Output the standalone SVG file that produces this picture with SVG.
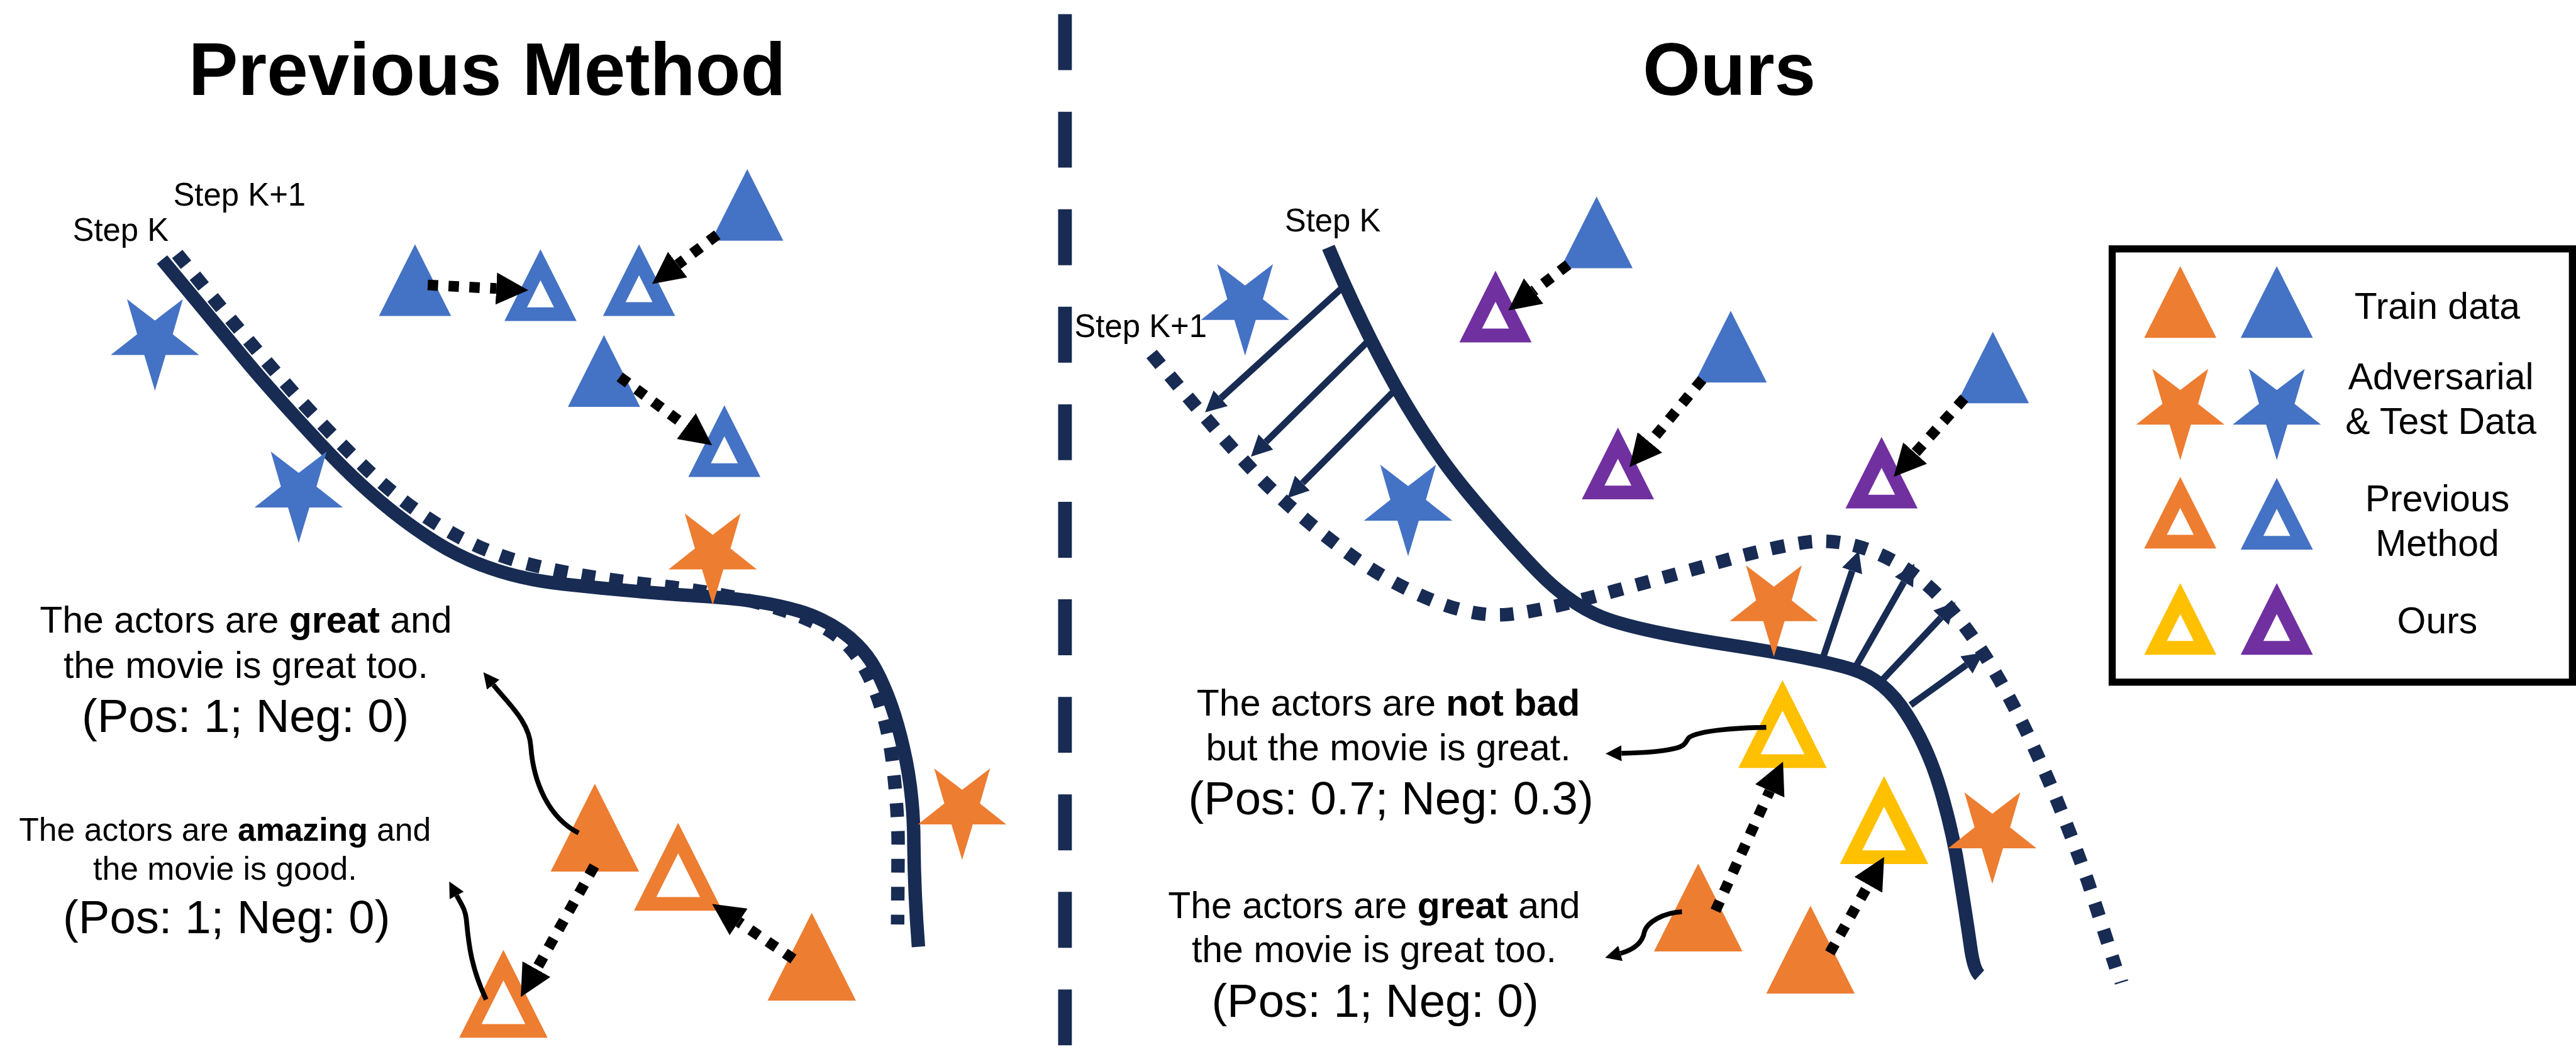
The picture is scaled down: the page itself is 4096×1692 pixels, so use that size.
<svg xmlns="http://www.w3.org/2000/svg" width="4096" height="1692" viewBox="0 0 4096 1692">
<style>
text{font-family:"Liberation Sans",Arial,sans-serif;fill:#000;text-anchor:middle}
.b{font-weight:700}
.step{font-size:63px;text-anchor:start}
.title{font-size:146px;font-weight:700}
.s73{font-size:73px}
.s64{font-size:64px}
.s90{font-size:92px}
.leg{font-size:73px}
.or{fill:#ED7D31}
.bl{fill:#4472C4}
.ye{fill:#FFC000}
.pu{fill:#7030A0}
.navy{fill:none;stroke:#172B53;stroke-width:26.5}
.dash{stroke-dasharray:27 28}
.dot{fill:none;stroke:#000;stroke-width:21;stroke-dasharray:20.5 20.5;marker-end:url(#hb)}
.fan{fill:none;stroke:#172B53;stroke-width:13;marker-end:url(#hn)}
.cur{fill:none;stroke:#000;stroke-width:9.5;marker-end:url(#hc)}
</style>
<defs>
<marker id="hb" viewBox="0 0 10 10" refX="0" refY="5" markerWidth="3" markerHeight="3" orient="auto"><path d="M0 0L10 5L0 10Z" fill="#000"/></marker>
<marker id="hn" viewBox="0 0 10 10" refX="0" refY="5" markerWidth="3.2" markerHeight="3.2" orient="auto"><path d="M0 0L10 5L0 10Z" fill="#172B53"/></marker>
<marker id="hc" viewBox="0 0 10 10" refX="0" refY="5" markerWidth="3.3" markerHeight="3.3" orient="auto"><path d="M0 0L10 5L0 10Z" fill="#000"/></marker>
<path id="t" d="M0 0L71 141H-71Z"/>
<path id="T" d="M0 0L87 173H-87Z"/>
<path id="h" fill-rule="evenodd" d="M0 0L71 141H-71ZM0 61L26.5 114H-26.5Z"/>
<path id="H" fill-rule="evenodd" d="M0 0L87 173H-87ZM0 60L43 146H-43Z"/>
<path id="s" d="M-55 0L0 42L55 0L35 69L87 110H21L0 180L-21 110H-87L-35 69Z"/>
</defs>
<rect width="4096" height="1692" fill="#fff"/>
<g transform="scale(0.80773)">
<g id="divider"><path d="M2096.5 28V2068" fill="none" stroke="#172B53" stroke-width="27" stroke-dasharray="110 82"/></g>
<g id="title-left"><text class="title" x="959" y="187">Previous Method</text></g>
<g id="title-right"><text class="title" x="3404" y="187">Ours</text></g>

<g id="connectors">
<path class="navy dash" d="M349 500Q470 650 555 747Q640 845 715 917Q790 990 875 1041Q960 1092 1055 1114Q1150 1137 1290 1152Q1430 1168 1515 1193Q1600 1218 1645 1250Q1690 1282 1719 1351Q1748 1420 1758 1510Q1768 1600 1768 1660L1767 1820"/>
<path class="navy" d="M319 511Q415 626 475 699Q535 772 642 886Q750 1000 857 1067Q965 1135 1109 1150Q1253 1166 1399 1175Q1545 1185 1617 1220Q1690 1255 1724 1318Q1758 1382 1778 1471Q1799 1560 1799 1662Q1800 1760 1808 1864"/>
<path class="navy dash" d="M2267 697Q2440 905 2510 970Q2580 1035 2655 1090Q2730 1145 2815 1180Q2900 1215 2965 1210Q3030 1205 3180 1163Q3330 1122 3415 1098Q3500 1075 3560 1067Q3620 1060 3685 1085Q3750 1110 3805 1162Q3860 1215 3910 1295Q3960 1375 4010 1485Q4060 1595 4110 1735L4165 1905"/>
<path d="M4163 1937L4189 1929" fill="none" stroke="#172B53" stroke-width="3"/>
<path class="navy" d="M2615 487Q2680 640 2747 760Q2815 880 2887 967Q2960 1055 3027 1125Q3095 1195 3167 1220Q3240 1245 3412 1271Q3585 1298 3647 1318Q3710 1338 3752 1404Q3795 1470 3820 1555Q3845 1640 3857 1720Q3870 1800 3880 1870Q3886 1910 3897 1920"/>
<path class="fan" d="M2645 564L2403 784"/>
<path class="fan" d="M2697 668L2492 870"/>
<path class="fan" d="M2749 765L2564 951"/>
<path class="fan" d="M3590 1291L3646 1124"/>
<path class="fan" d="M3654 1311L3748 1146"/>
<path class="fan" d="M3705 1339L3821 1216"/>
<path class="fan" d="M3761 1388L3871 1309"/>
</g>

<g id="star-b1"><use href="#s" class="bl" x="305" y="589"/></g>
<g id="star-b2"><use href="#s" class="bl" x="588" y="889"/></g>
<g id="star-o1"><use href="#s" class="or" x="1403" y="1011"/></g>
<g id="star-o2"><use href="#s" class="or" x="1894" y="1513"/></g>
<g id="star-b3"><use href="#s" class="bl" x="2451" y="520"/></g>
<g id="star-b4"><use href="#s" class="bl" x="2772" y="915"/></g>
<g id="star-o3"><use href="#s" class="or" x="3492" y="1113"/></g>
<g id="star-o4"><use href="#s" class="or" x="3922" y="1560"/></g>

<g id="tri-l1"><use href="#t" class="bl" x="817" y="481"/></g>
<g id="hol-l1"><use href="#h" class="bl" x="1064" y="491"/></g>
<g id="hol-l2"><use href="#h" class="bl" x="1258" y="481"/></g>
<g id="tri-l2"><use href="#t" class="bl" x="1471" y="333"/></g>
<g id="tri-l3"><use href="#t" class="bl" x="1189" y="660"/></g>
<g id="hol-l3"><use href="#h" class="bl" x="1426" y="798"/></g>
<g id="tri-l4"><use href="#T" class="or" x="1171" y="1543"/></g>
<g id="hol-l4"><use href="#H" class="or" x="1335" y="1620"/></g>
<g id="tri-l5"><use href="#T" class="or" x="1598" y="1797"/></g>
<g id="hol-l5"><use href="#H" class="or" x="991" y="1870"/></g>

<g id="tri-r1"><use href="#t" class="bl" x="3143" y="387"/></g>
<g id="tri-r2"><use href="#t" class="bl" x="3407" y="612"/></g>
<g id="tri-r3"><use href="#t" class="bl" x="3923" y="653"/></g>
<g id="hol-r1"><use href="#h" class="pu" x="2944" y="533"/></g>
<g id="hol-r2"><use href="#h" class="pu" x="3185" y="842"/></g>
<g id="hol-r3"><use href="#h" class="pu" x="3704" y="860"/></g>
<g id="hol-r4"><use href="#H" class="ye" x="3509" y="1339"/></g>
<g id="hol-r5"><use href="#H" class="ye" x="3709" y="1528"/></g>
<g id="tri-r4"><use href="#T" class="or" x="3343" y="1700"/></g>
<g id="tri-r5"><use href="#T" class="or" x="3564" y="1783"/></g>

<g id="arrows">
<path class="dot" d="M842 561L977 568"/>
<path class="dot" d="M1412 462L1334 521"/>
<path class="dot" d="M1220 742L1351 839"/>
<path class="dot" d="M1170 1705L1056 1908"/>
<path class="dot" d="M1562 1888L1454 1815"/>
<path class="dot" d="M3087 521L3019 573"/>
<path class="dot" d="M3351 747L3248 871"/>
<path class="dot" d="M3867 784L3770 892"/>
<path class="dot" d="M3377 1793L3484 1557"/>
<path class="dot" d="M3602 1876L3678 1742"/>
<path class="cur" d="M1139 1640C1080 1610 1050 1540 1045 1470C1042 1420 1000 1385 971 1348"/>
<path class="cur" d="M957 1968C925 1900 922 1850 918 1810C916 1790 908 1780 899 1763"/>
<path class="cur" d="M3477 1432C3420 1433 3345 1438 3325 1452C3318 1458 3322 1468 3295 1474C3265 1481 3230 1482 3192 1483"/>
<path class="cur" d="M3311 1795C3275 1797 3242 1815 3237 1835C3233 1858 3215 1870 3190 1877"/>
</g>

<g id="label-step-l"><text class="step" x="143" y="474">Step K</text></g>
<g id="label-step-l1"><text class="step" x="341" y="405">Step K+1</text></g>
<g id="label-step-r"><text class="step" x="2529" y="455">Step K</text></g>
<g id="label-step-r1"><text class="step" x="2115" y="663">Step K+1</text></g>

<g id="text-l1">
<text class="s73" x="484" y="1246">The actors are <tspan class="b">great</tspan> and</text>
<text class="s73" x="484" y="1334">the movie is great too.</text>
<text class="s90" x="483" y="1441">(Pos: 1; Neg: 0)</text>
</g>
<g id="text-l2">
<text class="s64" x="443" y="1655">The actors are <tspan class="b">amazing</tspan> and</text>
<text class="s64" x="443" y="1732">the movie is good.</text>
<text class="s90" x="446" y="1837">(Pos: 1; Neg: 0)</text>
</g>
<g id="text-r1">
<text class="s73" x="2733" y="1409">The actors are <tspan class="b">not bad</tspan></text>
<text class="s73" x="2733" y="1497">but the movie is great.</text>
<text class="s90" x="2738" y="1603">(Pos: 0.7; Neg: 0.3)</text>
</g>
<g id="text-r2">
<text class="s73" x="2705" y="1807">The actors are <tspan class="b">great</tspan> and</text>
<text class="s73" x="2705" y="1894">the movie is great too.</text>
<text class="s90" x="2707" y="2002">(Pos: 1; Neg: 0)</text>
</g>

<g id="legend">
<rect x="4158" y="490" width="906" height="853" fill="#fff" stroke="#000" stroke-width="14"/>
<use href="#t" class="or" x="4292" y="524"/>
<use href="#t" class="bl" x="4482" y="524"/>
<use href="#s" class="or" x="4292" y="726"/>
<use href="#s" class="bl" x="4482" y="726"/>
<use href="#h" class="or" x="4292" y="939"/>
<use href="#h" class="bl" x="4482" y="941"/>
<use href="#h" class="ye" x="4292" y="1148"/>
<use href="#h" class="pu" x="4482" y="1148"/>
<text class="leg" x="4798" y="628">Train data</text>
<text class="leg" x="4805" y="766">Adversarial</text>
<text class="leg" x="4805" y="854">&amp; Test Data</text>
<text class="leg" x="4798" y="1006">Previous</text>
<text class="leg" x="4798" y="1094">Method</text>
<text class="leg" x="4798" y="1247">Ours</text>
</g>
</g>
</svg>
